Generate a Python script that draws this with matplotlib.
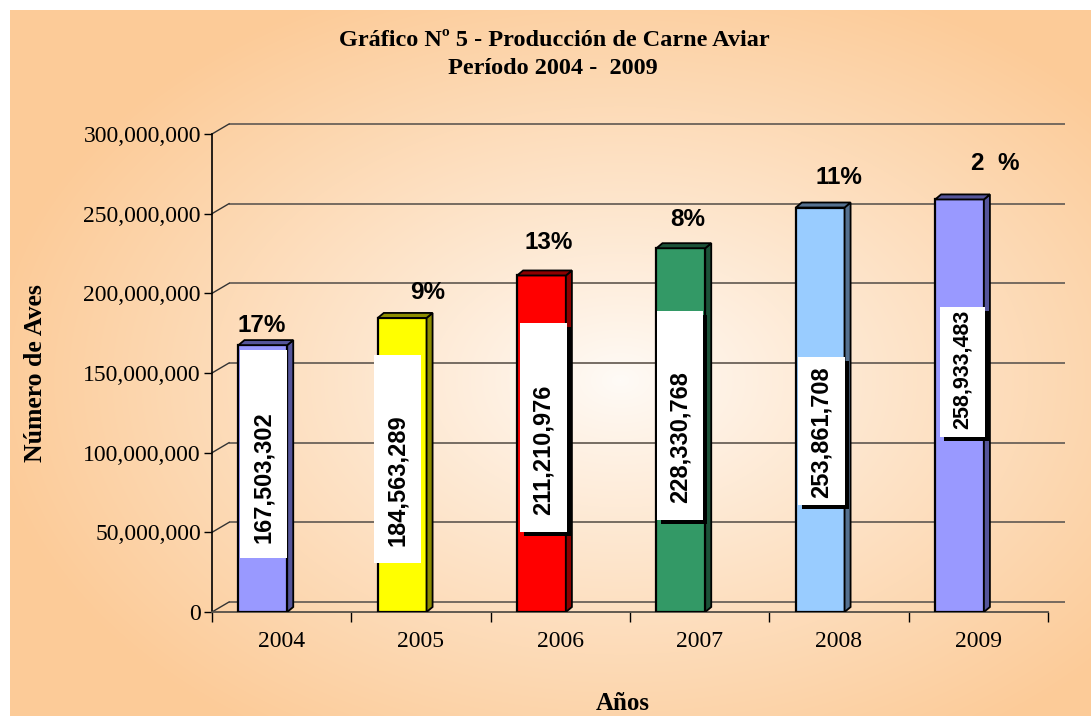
import numpy as np
import matplotlib
matplotlib.use("Agg")
import matplotlib.pyplot as plt
from matplotlib.patches import Rectangle, Polygon
from matplotlib.ticker import FuncFormatter, FixedLocator

# ---------------- data ----------------
years = ["2004", "2005", "2006", "2007", "2008", "2009"]
values = [167503302, 184563289, 211210976, 228330768, 253861708, 258933483]
value_labels = ["167,503,302", "184,563,289", "211,210,976",
                "228,330,768", "253,861,708", "258,933,483"]
pct_labels = ["17%", "9%", "13%", "8%", "11%", "2  %"]
y_ticks = [0, 50e6, 100e6, 150e6, 200e6, 250e6, 300e6]

# ---------------- styles ----------------
face_colors = ["#9999FF", "#FFFF00", "#FF0000", "#339966", "#99CCFF", "#9999FF"]
side_colors = ["#55559A", "#8C8C00", "#8C0000", "#1C5238", "#557190", "#55559A"]
# value-label boxes: (x offset from category, box centre y, box height, text y, width, shadow, fontsize)
box_dx = [-0.131, -0.169, -0.121, -0.141, -0.126, -0.113]
box_cy = [99.2e6, 96.0e6, 115.8e6, 123.3e6, 113.6e6, 150.6e6]
box_h = [130.5e6, 130.5e6, 131.2e6, 131.2e6, 92.9e6, 81.6e6]
txt_y = [84.7e6, 82.8e6, 101.7e6, 109.8e6, 113.0e6, 152.5e6]
box_w = [0.337, 0.337, 0.337, 0.33, 0.337, 0.323]
box_shadow = [False, False, True, True, True, True]
txt_fs = [17, 17, 17, 17, 17, 15.5]
# percentage labels: (x offset, y)
pct_dx = [-0.141, 0.05, -0.081, -0.084, 0.0, 0.12]
pct_y = [179.5e6, 200.5e6, 232.2e6, 246.5e6, 272.4e6, 281.2e6]

SERIF = ["Liberation Serif", "DejaVu Serif"]
SANS = ["Liberation Sans", "DejaVu Sans"]

W, H = 1091, 716
fig = plt.figure(figsize=(W / 100, H / 100), dpi=100)
fig.patch.set_facecolor("white")

# ---------------- background gradient ----------------
bw, bh = W - 10, H - 10
bg = fig.add_axes([10 / W, 0, bw / W, bh / H])
bg.axis("off")
yy, xx = np.mgrid[0:bh, 0:bw]
cx, cy = 610, 370
d = np.sqrt(((xx - cx) / 640.0) ** 2 + ((yy - cy) / 430.0) ** 2)
t = np.clip(d, 0, 1) ** 0.9
edge = np.array([252, 203, 152]) / 255.0
centre = np.array([255, 251, 247]) / 255.0
img = centre[None, None, :] * (1 - t[..., None]) + edge[None, None, :] * t[..., None]
bg.imshow(img, aspect="auto", interpolation="bilinear")
bg.set_zorder(0)

# ---------------- main axes (front plane) ----------------
L, R, B, T = 212, 1048, 612, 134
ax = fig.add_axes([L / W, (H - B) / H, (R - L) / W, (B - T) / H])
ax.set_zorder(1)
ax.patch.set_alpha(0)
ax.set_xlim(-0.5, 5.5)
ax.set_ylim(0, 300e6)
sx = (R - L) / 6.0          # px per category
sy = (B - T) / 300e6        # px per unit value

# back wall grid lines (offset in depth)
wdx, wdy = 17 / sx, 10 / sy
grid_col = "#6B6259"
for v in y_ticks:
    ax.plot([-0.5 + wdx, 5.5 + wdx], [v + wdy, v + wdy], color=grid_col, lw=1.3,
            clip_on=False, zorder=1, solid_capstyle="butt")
    ax.plot([-0.5, -0.5 + wdx], [v, v + wdy], color="#333333", lw=1.0,
            clip_on=False, zorder=1)

# ---------------- 3D bars ----------------
bar_w = 0.35
bar_shift = -0.135
bdx, bdy = 6 / sx, 5 / sy
xs = np.arange(len(years))
bars = ax.bar(xs + bar_shift, values, width=bar_w, color=face_colors,
              edgecolor="black", linewidth=1.6, zorder=3)
for i, b in enumerate(bars):
    x0 = b.get_x()
    x1 = x0 + b.get_width()
    v = b.get_height()
    top = Polygon([(x0, v), (x1, v), (x1 + bdx, v + bdy), (x0 + bdx, v + bdy)],
                  closed=True, fc=side_colors[i], ec="black", lw=1.3, zorder=3)
    side = Polygon([(x1, 0), (x1, v), (x1 + bdx, v + bdy), (x1 + bdx, bdy)],
                   closed=True, fc=side_colors[i], ec="black", lw=1.3, zorder=3)
    ax.add_patch(side)
    ax.add_patch(top)

# ---------------- value label boxes ----------------
sh_x, sh_y = 4 / sx, 4 / sy
for i in range(len(years)):
    bxc = xs[i] + box_dx[i]
    x0 = bxc - box_w[i] / 2
    y0 = box_cy[i] - box_h[i] / 2
    if box_shadow[i]:
        ax.add_patch(Rectangle((x0 + sh_x, y0 - sh_y), box_w[i], box_h[i],
                               fc="black", ec="none", zorder=4))
    ax.add_patch(Rectangle((x0, y0), box_w[i], box_h[i], fc="white", ec="none", zorder=5))
    ax.text(bxc, txt_y[i], value_labels[i], rotation=90, ha="center", va="center",
            fontsize=txt_fs[i], fontweight="bold", family=SANS, zorder=6)

# ---------------- percentage labels ----------------
for i in range(len(years)):
    ax.text(xs[i] + pct_dx[i], pct_y[i], pct_labels[i], ha="center", va="center",
            fontsize=17.5, fontweight="bold", family=SANS, zorder=6, clip_on=False)

# ---------------- axes styling ----------------
for s in ["top", "right"]:
    ax.spines[s].set_visible(False)
ax.spines["left"].set_color("black")
ax.spines["left"].set_linewidth(1.2)
ax.spines["bottom"].set_color("#555048")
ax.spines["bottom"].set_linewidth(1.3)
ax.spines["left"].set_zorder(2)
ax.spines["bottom"].set_zorder(2)

ax.yaxis.set_major_locator(FixedLocator(y_ticks))
ax.yaxis.set_major_formatter(FuncFormatter(lambda v, p: f"{int(v):,}"))
ax.tick_params(axis="y", direction="out", length=6, width=1.0, pad=2,
               labelsize=17, colors="black")
for lab in ax.get_yticklabels():
    lab.set_family(SERIF)

ax.set_xticks(xs)
ax.set_xticklabels(years)
ax.set_xticks(np.arange(-0.5, 6.0, 1.0), minor=True)
ax.tick_params(axis="x", which="major", length=0, pad=14, labelsize=17)
ax.tick_params(axis="x", which="minor", direction="out", length=7, width=1.0)
for lab in ax.get_xticklabels():
    lab.set_family(SERIF)

# ---------------- titles ----------------
fig.text(554 / W, 1 - 40 / H, "Gráfico Nº 5 - Producción de Carne Aviar",
         ha="center", va="center", fontsize=17.5, fontweight="bold", family=SERIF)
fig.text(553 / W, 1 - 69 / H, "Período 2004 -  2009",
         ha="center", va="center", fontsize=17.5, fontweight="bold", family=SERIF)
fig.text(36 / W, 1 - 373 / H, "Número de Aves", rotation=90,
         ha="center", va="center", fontsize=18.5, fontweight="bold", family=SERIF)
fig.text(623 / W, 1 - 703 / H, "Años",
         ha="center", va="center", fontsize=18, fontweight="bold", family=SERIF)

fig.savefig("out.png", dpi=100)
